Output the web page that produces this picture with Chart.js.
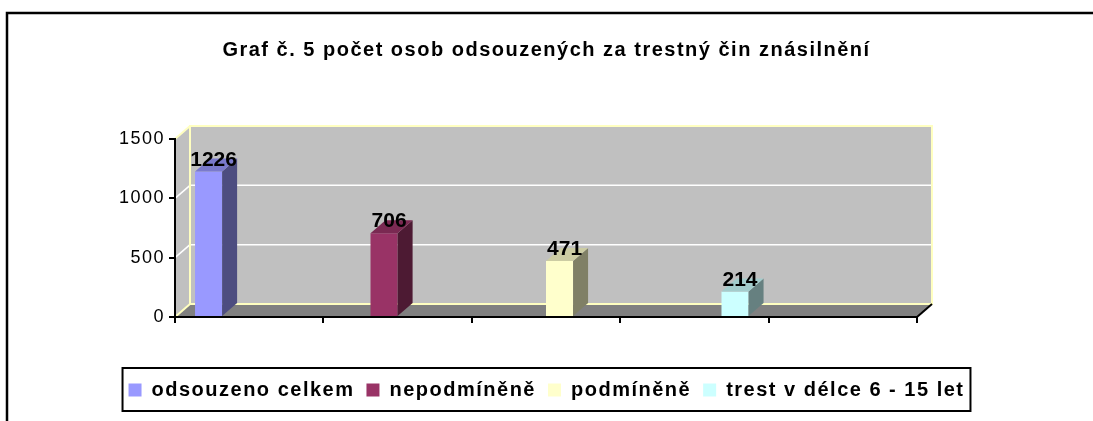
<!DOCTYPE html>
<html><head><meta charset="utf-8">
<script src="https://cdn.jsdelivr.net/npm/chart.js@4/dist/chart.umd.min.js"></script>
<style>html,body{margin:0;padding:0;background:#fff;} #wrap{width:1093px;height:421px;}</style>
</head><body><div id="wrap"><canvas id="c" width="1093" height="421"></canvas></div>
<script>
// ---- data ----
const categories = ['', '', '', '', ''];
const chartTitle = 'Graf č. 5 počet osob odsouzených za trestný čin znásilnění';
const seriesNames = ['odsouzeno celkem', 'nepodmíněně', 'podmíněně', 'trest v délce 6 - 15 let'];
const odsouzenoCelkem = [1226, null, null, null, null];
const nepodminene     = [null, 706, null, null, null];
const podminene       = [null, null, 471, null, null];
const trest6az15      = [null, null, null, 214, null];
const yTicks = [0, 500, 1000, 1500];

// ---- styles ----
const frontColors = ['#9999FF', '#993366', '#FFFFCC', '#CCFFFF'];
const sideColors  = ['#4D4D80', '#4D1A33', '#808066', '#668080'];
const topColors   = ['#7A7ACC', '#7A2952', '#CCCCA3', '#A3CCCC'];
const DX = 15, DY = -13;
const SPACING = '1.5px';
const FONT = "'Liberation Sans', Arial, sans-serif";

Chart.defaults.font.family = FONT;
Chart.defaults.color = '#000';

function poly(ctx, pts, fill) {
  ctx.beginPath();
  ctx.moveTo(pts[0][0], pts[0][1]);
  for (let k = 1; k < pts.length; k++) ctx.lineTo(pts[k][0], pts[k][1]);
  ctx.closePath();
  ctx.fillStyle = fill;
  ctx.fill();
}
function line(ctx, x1, y1, x2, y2) {
  ctx.beginPath(); ctx.moveTo(x1, y1); ctx.lineTo(x2, y2); ctx.stroke();
}

const spacingPlugin = {
  id: 'spacing',
  beforeLayout(chart) { chart.ctx.letterSpacing = SPACING; },
  beforeDraw(chart) { chart.ctx.letterSpacing = SPACING; }
};

const wallsPlugin = {
  id: 'walls',
  beforeDraw(chart) {
    const ctx = chart.ctx;
    const {left, right, top, bottom} = chart.chartArea;
    const y = chart.scales.y;
    ctx.save();
    // outer frame
    ctx.strokeStyle = '#000'; ctx.lineWidth = 2.5;
    ctx.strokeRect(7, 13, 1200, 600);
    // walls and floor
    poly(ctx, [[left, top], [left + DX, top + DY], [left + DX, bottom + DY], [left, bottom]], '#C0C0C0');
    ctx.fillStyle = '#C0C0C0';
    ctx.fillRect(left + DX, top + DY, right - left, bottom - top);
    poly(ctx, [[left, bottom], [right, bottom], [right + DX, bottom + DY], [left + DX, bottom + DY]], '#808080');
    // gridlines
    ctx.strokeStyle = '#FFFFFF'; ctx.lineWidth = 1.5;
    yTicks.forEach(v => {
      if (v === yTicks[0] || v === yTicks[yTicks.length - 1]) return;
      const py = y.getPixelForValue(v);
      line(ctx, left, py, left + DX, py + DY);
      line(ctx, left + DX, py + DY, right + DX, py + DY);
    });
    // pale yellow wall edges
    ctx.strokeStyle = '#FFFFC0'; ctx.lineWidth = 2;
    ctx.strokeRect(left + DX, top + DY, right - left, bottom - top);
    line(ctx, left, top, left + DX, top + DY);
    line(ctx, left, bottom, left + DX, bottom + DY);
    // floor right edge
    ctx.strokeStyle = '#000'; ctx.lineWidth = 2;
    line(ctx, right, bottom, right + DX, bottom + DY);
    ctx.restore();
  }
};

const bars3dPlugin = {
  id: 'bars3d',
  afterDatasetsDraw(chart) {
    const ctx = chart.ctx;
    ctx.save();
    const labels = [];
    chart.data.datasets.forEach((ds, i) => {
      const meta = chart.getDatasetMeta(i);
      meta.data.forEach((bar, j) => {
        const v = ds.data[j];
        if (v === null || v === undefined) return;
        const p = bar.getProps(['x', 'y', 'base', 'width'], true);
        const l = p.x - p.width / 2, r = p.x + p.width / 2;
        poly(ctx, [[r, p.y], [r + DX, p.y + DY], [r + DX, p.base + DY], [r, p.base]], sideColors[i]);
        poly(ctx, [[l, p.y], [l + DX, p.y + DY], [r + DX, p.y + DY], [r, p.y]], topColors[i]);
        labels.push([String(v), p.x + 5, p.y - 6]);
      });
    });
    ctx.letterSpacing = '0px';
    ctx.font = "bold 21px " + FONT;
    ctx.fillStyle = '#000';
    ctx.textAlign = 'center';
    ctx.textBaseline = 'alphabetic';
    labels.forEach(t => ctx.fillText(t[0], t[1], t[2]));
    ctx.restore();
  }
};

const legendBoxPlugin = {
  id: 'legendBox',
  afterDraw(chart) {
    const lg = chart.legend;
    if (!lg || !lg.legendHitBoxes || !lg.legendHitBoxes.length) return;
    const hb = lg.legendHitBoxes;
    const first = hb[0], last = hb[hb.length - 1];
    const cy = first.top + first.height / 2;
    const ctx = chart.ctx;
    ctx.save();
    ctx.strokeStyle = '#000'; ctx.lineWidth = 2;
    ctx.strokeRect(first.left - 6, cy - 22, (last.left + last.width + 6) - (first.left - 6), 43);
    ctx.restore();
  }
};

const seriesData = [odsouzenoCelkem, nepodminene, podminene, trest6az15];

new Chart(document.getElementById('c'), {
  type: 'bar',
  data: {
    labels: categories,
    datasets: seriesNames.map((name, i) => ({
      label: name,
      data: seriesData[i],
      backgroundColor: frontColors[i],
      borderWidth: 0,
      categoryPercentage: 0.73,
      barPercentage: 1.0
    }))
  },
  options: {
    responsive: false,
    animation: false,
    events: [],
    layout: { padding: { left: 0, right: 0, top: 0, bottom: 11 } },
    plugins: {
      tooltip: { enabled: false },
      title: {
        display: true,
        text: chartTitle,
        color: '#000',
        font: { size: 20, weight: 'bold', family: FONT },
        padding: { top: 38, bottom: 77 }
      },
      legend: {
        display: true,
        position: 'bottom',
        labels: {
          color: '#000',
          font: { size: 20, weight: 'bold', family: FONT },
          boxWidth: 13,
          boxHeight: 13,
          padding: 12
        }
      }
    },
    scales: {
      x: {
        type: 'category',
        offset: true,
        grid: { offset: true, drawOnChartArea: false, drawTicks: true, tickLength: 6, color: '#000', lineWidth: 2 },
        border: { display: true, color: '#000', width: 2 },
        ticks: { display: false },
        afterFit: s => { s.height = 51; }
      },
      y: {
        type: 'linear',
        position: 'left',
        min: 0,
        max: 1500,
        afterBuildTicks: s => { s.ticks = yTicks.map(v => ({ value: v })); },
        grid: { drawOnChartArea: false, drawTicks: true, tickLength: 6, color: '#000', lineWidth: 2 },
        border: { display: true, color: '#000', width: 2 },
        ticks: { color: '#000', font: { size: 18, family: FONT }, padding: 4, callback: v => String(v) },
        afterFit: s => { s.width = 175; }
      },
      yRight: {
        type: 'linear',
        position: 'right',
        display: true,
        grid: { display: false },
        border: { display: false },
        ticks: { display: false },
        afterFit: s => { s.width = 176; }
      }
    }
  },
  plugins: [spacingPlugin, wallsPlugin, bars3dPlugin, legendBoxPlugin]
});
</script>
</body></html>
